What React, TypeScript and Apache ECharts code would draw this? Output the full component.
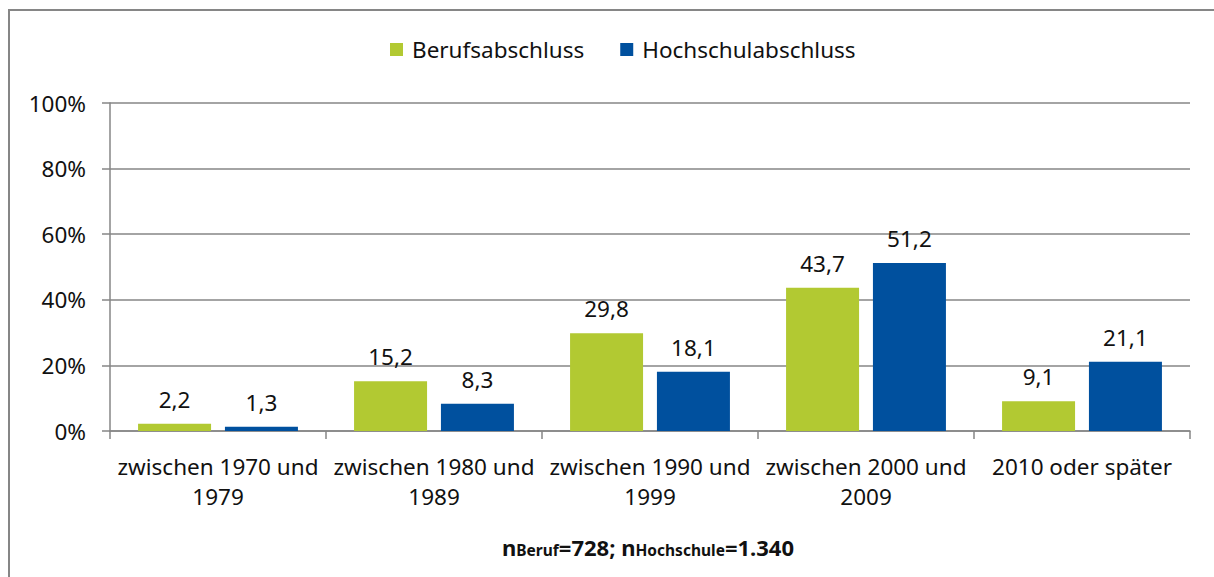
import React, { useEffect, useRef } from "react";
import * as echarts from "echarts";

const categories = [
  "zwischen 1970 und\n1979",
  "zwischen 1980 und\n1989",
  "zwischen 1990 und\n1999",
  "zwischen 2000 und\n2009",
  "2010 oder später",
];
const beruf = [2.2, 15.2, 29.8, 43.7, 9.1];
const hochschule = [1.3, 8.3, 18.1, 51.2, 21.1];
const seriesNames = ["Berufsabschluss", "Hochschulabschluss"];

const FONT = "'Noto Sans', sans-serif";
const GRAY = "#868686";
const GREEN = "#B2C932";
const BLUE = "#00509E";
const FS = 22.5;

export default function App() {
  const ref = useRef<HTMLDivElement>(null);
  useEffect(() => {
    if (!ref.current) return;
    const chart = echarts.init(ref.current, null, { renderer: "svg" });
    const fmt = (p: any) => String(p.value).replace(".", ",");
    chart.setOption({
      animation: false,
      textStyle: { fontFamily: FONT },
      legend: {
        top: 33,
        left: 385,
        itemWidth: 13,
        itemHeight: 13,
        itemGap: 36,
        icon: "rect",
        textStyle: {
          fontSize: FS,
          color: "#111",
          fontFamily: FONT,
          padding: [0, 0, 0, 4],
        },
        data: seriesNames,
      },
      grid: { left: 110, right: 24, top: 103, bottom: 146 },
      xAxis: {
        type: "category",
        data: categories,
        axisLine: { lineStyle: { color: GRAY, width: 1.5 } },
        axisTick: { show: true, length: 8, lineStyle: { color: GRAY, width: 1.5 } },
        axisLabel: {
          fontSize: FS,
          color: "#111",
          margin: 20,
          lineHeight: 30,
          fontFamily: FONT,
          interval: 0,
        },
      },
      yAxis: {
        type: "value",
        min: 0,
        max: 100,
        interval: 20,
        axisLine: { show: true, lineStyle: { color: GRAY, width: 1.5 } },
        axisTick: { show: true, length: 8, lineStyle: { color: GRAY, width: 1.5 } },
        splitLine: { lineStyle: { color: GRAY, width: 1.5 } },
        axisLabel: {
          formatter: "{value}%",
          fontSize: FS,
          color: "#111",
          margin: 24,
          fontFamily: FONT,
        },
      },
      series: [
        {
          name: seriesNames[0],
          type: "bar",
          data: beruf,
          barWidth: 73,
          barGap: "19%",
          itemStyle: { color: GREEN },
          label: {
            show: true,
            position: "top",
            distance: 13,
            formatter: fmt,
            fontSize: FS,
            color: "#111",
            fontFamily: FONT,
          },
        },
        {
          name: seriesNames[1],
          type: "bar",
          data: hochschule,
          barWidth: 73,
          barGap: "19%",
          itemStyle: { color: BLUE },
          label: {
            show: true,
            position: "top",
            distance: 13,
            formatter: fmt,
            fontSize: FS,
            color: "#111",
            fontFamily: FONT,
          },
        },
      ],
      graphic: [
        {
          type: "polyline",
          shape: { points: [[9, 577], [9, 10], [1214, 10]] },
          style: { stroke: GRAY, lineWidth: 2, fill: null },
          silent: true,
        },
        {
          type: "text",
          x: 648,
          y: 541,
          style: {
            text: "{m|n}{s|Beruf}{m|=728; n}{s|Hochschule}{m|=1.340}",
            align: "center",
            verticalAlign: "middle",
            rich: {
              m: {
                fontSize: 22,
                fontWeight: "bold",
                fontFamily: FONT,
                fill: "#111",
                lineHeight: 34,
                verticalAlign: "bottom",
              },
              s: {
                fontSize: 15.5,
                fontWeight: "bold",
                fontFamily: FONT,
                fill: "#111",
                lineHeight: 15,
                verticalAlign: "bottom",
              },
            },
          },
        },
      ],
    });
    return () => chart.dispose();
  }, []);
  return (
    <div
      ref={ref}
      style={{ position: "absolute", left: 0, top: 0, width: 1214, height: 577 }}
    />
  );
}
